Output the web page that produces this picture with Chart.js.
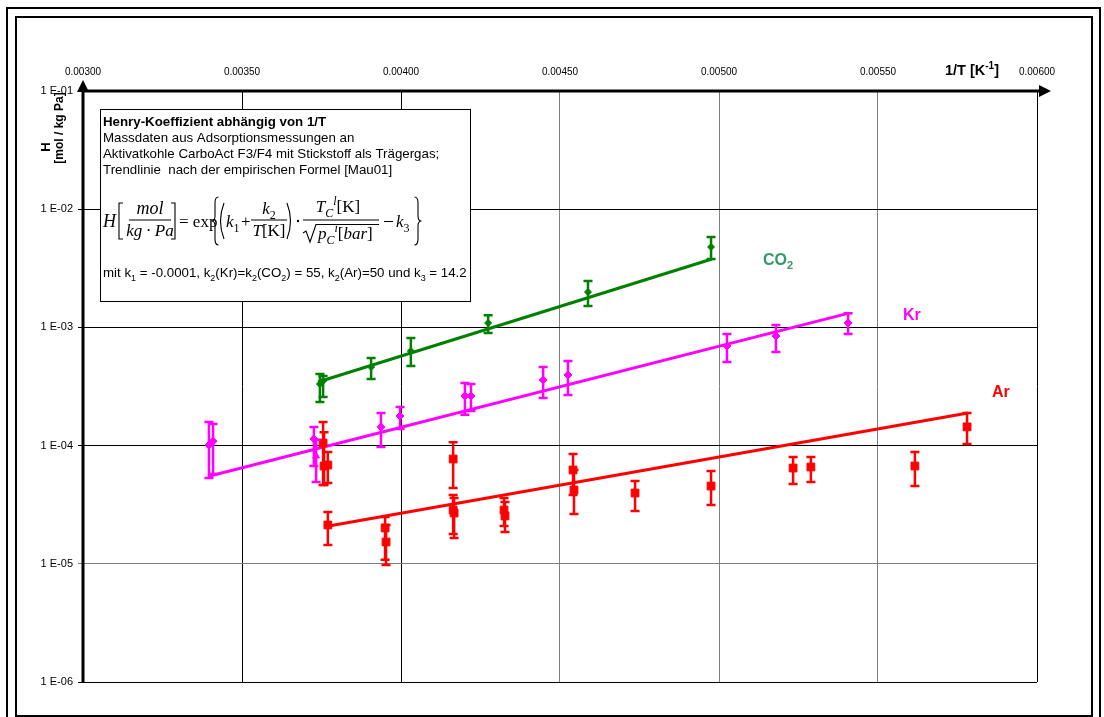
<!DOCTYPE html>
<html>
<head>
<meta charset="utf-8">
<script src="https://cdn.jsdelivr.net/npm/chart.js@4.4.1/dist/chart.umd.min.js"></script>
<style>
  html, body { margin: 0; padding: 0; background: #fff; }
  #wrap { width: 1104px; height: 717px; position: relative; }
</style>
</head>
<body>
<div id="wrap"><canvas id="henryChart"></canvas></div>
<script>
const X_TICKS = [0.003, 0.0035, 0.004, 0.0045, 0.005, 0.0055, 0.006]
const X_TICK_LABELS = ['0.00300', '0.00350', '0.00400', '0.00450', '0.00500', '0.00550', '0.00600']
const Y_TICKS = [1e-6, 1e-5, 1e-4, 1e-3, 1e-2, 1e-1]
const Y_TICK_LABELS = ['1 E-06', '1 E-05', '1 E-04', '1 E-03', '1 E-02', '1 E-01']

// CO2: 1/T, H, lower and upper end of the error bar
const CO2_X = [0.003745, 0.003755, 0.003906, 0.004031, 0.004274, 0.004588, 0.004975]
const CO2_H = [3.32e-4, 3.52e-4, 4.62e-4, 6.31e-4, 1.09e-3, 1.99e-3, 4.79e-3]
const CO2_LO = [2.34e-4, 2.58e-4, 3.66e-4, 4.71e-4, 8.97e-4, 1.52e-3, 3.79e-3]
const CO2_HI = [4.04e-4, 3.88e-4, 5.51e-4, 8.13e-4, 1.27e-3, 2.47e-3, 5.82e-3]
const CO2_FIT_X = [0.003739, 0.004978]
const CO2_FIT_H = [3.45e-4, 3.79e-3]

// Kr
const KR_X = [0.003396, 0.003409, 0.003726, 0.003733, 0.003937, 0.003997, 0.004201, 0.004220, 0.004447, 0.004525, 0.005025, 0.005179, 0.005406]
const KR_H = [1.01e-4, 1.09e-4, 1.14e-4, 8.17e-5, 1.44e-4, 1.78e-4, 2.63e-4, 2.63e-4, 3.59e-4, 3.96e-4, 6.96e-4, 8.46e-4, 1.09e-3]
const KR_LO = [5.32e-5, 5.75e-5, 6.72e-5, 4.92e-5, 9.73e-5, 1.38e-4, 1.82e-4, 1.96e-4, 2.53e-4, 2.68e-4, 5.10e-4, 6.19e-4, 8.80e-4]
const KR_HI = [1.58e-4, 1.52e-4, 1.44e-4, 1.12e-4, 1.89e-4, 2.12e-4, 3.39e-4, 3.32e-4, 4.62e-4, 5.20e-4, 8.80e-4, 1.05e-3, 1.32e-3]
const KR_FIT_X = [0.003399, 0.005409]
const KR_FIT_H = [5.53e-5, 1.32e-3]

// Ar
const AR_X = [0.003755, 0.003758, 0.003770, 0.003770, 0.003950, 0.003953, 0.004164, 0.004164, 0.004167, 0.004324, 0.004327, 0.004541, 0.004544, 0.004736, 0.004975, 0.005233, 0.005289, 0.005616, 0.005780]
const AR_H = [1.05e-4, 6.72e-5, 6.85e-5, 2.13e-5, 2.01e-5, 1.53e-5, 7.70e-5, 2.85e-5, 2.69e-5, 2.85e-5, 2.54e-5, 6.22e-5, 4.21e-5, 3.97e-5, 4.55e-5, 6.46e-5, 6.59e-5, 6.72e-5, 1.44e-4]
const AR_LO = [4.64e-5, 4.64e-5, 4.83e-5, 1.44e-5, 1.08e-5, 9.77e-6, 4.38e-5, 1.79e-5, 1.65e-5, 2.09e-5, 1.86e-5, 3.82e-5, 2.64e-5, 2.80e-5, 3.14e-5, 4.73e-5, 4.92e-5, 4.55e-5, 1.03e-4]
const AR_HI = [1.58e-4, 1.30e-4, 8.83e-5, 2.74e-5, 2.49e-5, 2.13e-5, 1.07e-4, 3.82e-5, 3.60e-5, 3.60e-5, 3.33e-5, 8.49e-5, 6.22e-5, 5.02e-5, 6.10e-5, 8.01e-5, 8.01e-5, 8.83e-5, 1.89e-4]
const AR_FIT_X = [0.003773, 0.005783]
const AR_FIT_H = [2.09e-5, 1.89e-4]

const COLORS = { co2: '#008000', co2label: '#339966', kr: '#ff00ff', ar: '#ff0000' }
const SANS = '"Liberation Sans", Arial, sans-serif'
const SERIF = '"Liberation Serif", "Times New Roman", serif'

const pts = (xs, ys) => xs.map((x, i) => ({ x: x, y: ys[i] }))

const ERRORS = [
  { xs: CO2_X, lo: CO2_LO, hi: CO2_HI, color: COLORS.co2 },
  { xs: KR_X, lo: KR_LO, hi: KR_HI, color: COLORS.kr },
  { xs: AR_X, lo: AR_LO, hi: AR_HI, color: COLORS.ar }
]

// rich text: parts = [text, 'sub'|'sup'|'', italic]
function rich(ctx, x, y, parts, size, family, bold, draw) {
  let cx = x
  parts.forEach(p => {
    const small = p[1] === 'sub' || p[1] === 'sup'
    const fs = small ? Math.round(size * 0.68) : size
    const dy = p[1] === 'sub' ? size * 0.28 : p[1] === 'sup' ? -size * 0.42 : 0
    ctx.font = (p[2] ? 'italic ' : '') + (bold ? 'bold ' : '') + fs + 'px ' + family
    if (draw !== false) ctx.fillText(p[0], cx, y + dy)
    cx += ctx.measureText(p[0]).width
  })
  return cx - x
}
function richCenter(ctx, cx, y, parts, size, family) {
  const w = rich(ctx, 0, 0, parts, size, family, false, false)
  rich(ctx, cx - w / 2, y, parts, size, family, false)
}

function brace(ctx, x, top, bottom, dir) {
  const mid = (top + bottom) / 2, a = 3.5
  ctx.beginPath()
  ctx.moveTo(x + dir * a, top)
  ctx.quadraticCurveTo(x, top, x, top + 6)
  ctx.lineTo(x, mid - 5)
  ctx.quadraticCurveTo(x, mid, x - dir * a, mid)
  ctx.quadraticCurveTo(x, mid, x, mid + 5)
  ctx.lineTo(x, bottom - 6)
  ctx.quadraticCurveTo(x, bottom, x + dir * a, bottom)
  ctx.stroke()
}
function paren(ctx, x, top, bottom, dir) {
  ctx.beginPath()
  ctx.moveTo(x + dir * 3, top)
  ctx.quadraticCurveTo(x - dir * 4, (top + bottom) / 2, x + dir * 3, bottom)
  ctx.stroke()
}
function bracket(ctx, x, top, bottom, dir) {
  ctx.beginPath()
  ctx.moveTo(x + dir * 4, top)
  ctx.lineTo(x, top)
  ctx.lineTo(x, bottom)
  ctx.lineTo(x + dir * 4, bottom)
  ctx.stroke()
}

const errorBars = {
  id: 'errorBars',
  afterDatasetsDraw(chart) {
    const ctx = chart.ctx, xs = chart.scales.x, ys = chart.scales.y
    ctx.save()
    ctx.lineWidth = 2.5
    ERRORS.forEach(s => {
      ctx.strokeStyle = s.color
      s.xs.forEach((v, i) => {
        const x = xs.getPixelForValue(v)
        const y1 = ys.getPixelForValue(s.lo[i])
        const y2 = ys.getPixelForValue(s.hi[i])
        ctx.beginPath()
        ctx.moveTo(x, y1); ctx.lineTo(x, y2)
        ctx.moveTo(x - 4.5, y1); ctx.lineTo(x + 4.5, y1)
        ctx.moveTo(x - 4.5, y2); ctx.lineTo(x + 4.5, y2)
        ctx.stroke()
      })
    })
    ctx.restore()
  }
}

const decorations = {
  id: 'decorations',
  afterDraw(chart) {
    const ctx = chart.ctx, a = chart.chartArea
    ctx.save()
    // double frame
    ctx.strokeStyle = '#000'
    ctx.lineWidth = 2
    ctx.strokeRect(7, 8, 1093, 730)
    ctx.strokeRect(16, 17, 1076, 699)

    // axes with arrows
    ctx.lineWidth = 3
    ctx.beginPath()
    ctx.moveTo(a.left, a.bottom); ctx.lineTo(a.left, a.top - 2)
    ctx.moveTo(a.left - 1.5, a.top); ctx.lineTo(a.right + 4, a.top)
    ctx.stroke()
    ctx.fillStyle = '#000'
    ctx.beginPath()
    ctx.moveTo(a.right + 2, a.top - 6); ctx.lineTo(a.right + 14, a.top); ctx.lineTo(a.right + 2, a.top + 6)
    ctx.fill()
    ctx.beginPath()
    ctx.moveTo(a.left - 6, a.top + 1); ctx.lineTo(a.left, a.top - 11); ctx.lineTo(a.left + 6, a.top + 1)
    ctx.fill()

    // axis titles
    ctx.textBaseline = 'alphabetic'
    ctx.textAlign = 'left'
    rich(ctx, 945, 75, [['1/T [K', ''], ['-1', 'sup'], [']', '']], 14.5, SANS, true)
    ctx.save()
    ctx.translate(50, 147)
    ctx.rotate(-Math.PI / 2)
    ctx.textAlign = 'center'
    ctx.font = 'bold 13px ' + SANS
    ctx.fillText('H', 0, 0)
    ctx.translate(19, 13)
    ctx.font = 'bold 12px ' + SANS
    ctx.fillText('[mol / kg Pa]', 0, 0)
    ctx.restore()

    // series labels
    ctx.fillStyle = COLORS.co2label
    rich(ctx, 763, 265, [['CO', ''], ['2', 'sub']], 16, SANS, true)
    ctx.font = 'bold 16px ' + SANS
    ctx.fillStyle = COLORS.kr
    ctx.fillText('Kr', 903, 320)
    ctx.fillStyle = COLORS.ar
    ctx.fillText('Ar', 992, 397)

    // info box
    ctx.fillStyle = '#fff'
    ctx.fillRect(100, 109, 370, 192)
    ctx.lineWidth = 1
    ctx.strokeRect(100.5, 109.5, 370, 192)
    ctx.fillStyle = '#000'
    ctx.font = 'bold 13.3px ' + SANS
    ctx.fillText('Henry-Koeffizient abhängig von 1/T', 103, 126)
    ctx.font = '13.3px ' + SANS
    ctx.fillText('Massdaten aus Adsorptionsmessungen an', 103, 142)
    ctx.fillText('Aktivatkohle CarboAct F3/F4 mit Stickstoff als Trägergas;', 103, 158)
    ctx.fillText('Trendlinie  nach der empirischen Formel [Mau01]', 103, 174)

    // formula
    ctx.lineWidth = 1.1
    ctx.font = 'italic 18px ' + SERIF
    ctx.fillText('H', 103, 227)
    bracket(ctx, 119, 203, 239, 1)
    richCenter(ctx, 150, 214, [['mol', '', 1]], 18, SERIF)
    richCenter(ctx, 150, 236, [['kg', '', 1], ['\u2009·\u2009', ''], ['Pa', '', 1]], 17, SERIF)
    ctx.fillRect(129, 219.5, 42, 1)
    bracket(ctx, 175, 203, 239, -1)
    ctx.font = '17px ' + SERIF
    ctx.fillText('= exp', 179, 227)
    brace(ctx, 215, 197, 245, 1)
    paren(ctx, 221, 203, 239, 1)
    rich(ctx, 226, 227, [['k', '', 1], ['1', 'sub']], 17, SERIF)
    ctx.font = '17px ' + SERIF
    ctx.fillText('+', 241, 227)
    richCenter(ctx, 269, 214, [['k', '', 1], ['2', 'sub']], 17, SERIF)
    ctx.fillRect(251, 219.5, 36, 1)
    richCenter(ctx, 269, 236, [['T', '', 1], ['[K]', '']], 17, SERIF)
    paren(ctx, 290, 203, 239, -1)
    ctx.beginPath(); ctx.arc(298, 221, 1.2, 0, Math.PI * 2); ctx.fill()
    richCenter(ctx, 338, 212, [['T', '', 1], ['C', 'sub', 1], ['l', 'sup', 1], ['[K]', '']], 17, SERIF)
    ctx.fillRect(303, 219.5, 76, 1)
    ctx.beginPath()
    ctx.moveTo(303, 233); ctx.lineTo(306, 231); ctx.lineTo(310, 242); ctx.lineTo(316, 224.5); ctx.lineTo(379, 224.5)
    ctx.stroke()
    rich(ctx, 318, 239, [['p', '', 1], ['C', 'sub', 1], ['i', 'sup', 1], ['[', ''], ['bar', '', 1], [']', '']], 17, SERIF)
    ctx.fillRect(384, 221, 9, 1)
    rich(ctx, 396, 227, [['k', '', 1], ['3', 'sub']], 17, SERIF)
    brace(ctx, 418, 197, 245, -1)

    rich(ctx, 103, 277, [['mit k', ''], ['1', 'sub'], [' = -0.0001, k', ''], ['2', 'sub'], ['(Kr)=k', ''], ['2', 'sub'],
      ['(CO', ''], ['2', 'sub'], [') = 55, k', ''], ['2', 'sub'], ['(Ar)=50 und k', ''], ['3', 'sub'], [' = 14.2', '']], 13.3, SANS)
    ctx.restore()
  }
}

const gridColorX = ctx => (ctx.index >= 3 && ctx.index <= 5) ? '#808080' : '#000'
const gridColorY = ctx => ctx.index === 1 ? '#808080' : '#000'

const henryData = {
  datasets: [{
    data: pts(CO2_X, CO2_H),
    pointStyle: 'rectRot', pointRadius: 3.5,
    backgroundColor: COLORS.co2, borderColor: COLORS.co2,
    showLine: false, order: 0
  }, {
    data: pts(CO2_FIT_X, CO2_FIT_H),
    borderColor: COLORS.co2, borderWidth: 3, pointRadius: 0,
    showLine: true, order: 1
  }, {
    data: pts(KR_X, KR_H),
    pointStyle: ctx => ctx.dataIndex === 3 ? 'triangle' : 'rectRot', pointRadius: 4,
    backgroundColor: COLORS.kr, borderColor: COLORS.kr,
    showLine: false, order: 0
  }, {
    data: pts(KR_FIT_X, KR_FIT_H),
    borderColor: COLORS.kr, borderWidth: 3, pointRadius: 0,
    showLine: true, order: 1
  }, {
    data: pts(AR_X, AR_H),
    pointStyle: 'rect', pointRadius: 5.5,
    backgroundColor: COLORS.ar, borderColor: COLORS.ar,
    showLine: false, order: 0
  }, {
    data: pts(AR_FIT_X, AR_FIT_H),
    borderColor: COLORS.ar, borderWidth: 3, pointRadius: 0,
    showLine: true, order: 1
  }]
}

const henryOptions = {
  responsive: true,
  maintainAspectRatio: false,
  animation: false,
  layout: { padding: { left: 20, right: 67, top: 20, bottom: 35 } },
  plugins: {
    legend: { display: false },
    tooltip: { enabled: false }
  },
  scales: {
    x: {
      type: 'linear',
      position: 'top',
      min: 0.003,
      max: 0.006,
      afterBuildTicks: s => { s.ticks = X_TICKS.map(v => ({ value: v })) },
      afterFit: s => { s.height = 71 },
      ticks: {
        callback: (v, i) => X_TICK_LABELS[i],
        font: { family: SANS, size: 10 },
        color: '#000',
        padding: 13,
        maxRotation: 0,
        autoSkip: false
      },
      grid: { color: gridColorX, lineWidth: 1, drawTicks: false },
      border: { display: false }
    },
    y: {
      type: 'logarithmic',
      min: 1e-6,
      max: 1e-1,
      afterBuildTicks: s => { s.ticks = Y_TICKS.map(v => ({ value: v })) },
      afterFit: s => { s.width = 63 },
      ticks: {
        callback: (v, i) => Y_TICK_LABELS[i],
        font: { family: SANS, size: 11 },
        color: '#000',
        padding: 5,
        autoSkip: false
      },
      grid: { color: gridColorY, lineWidth: 1, tickLength: 5 },
      border: { display: false }
    }
  }
}

const henryChart = new Chart(document.getElementById('henryChart'), {
  type: 'scatter',
  data: henryData,
  plugins: [errorBars, decorations],
  options: henryOptions
})
</script>
</body>
</html>
